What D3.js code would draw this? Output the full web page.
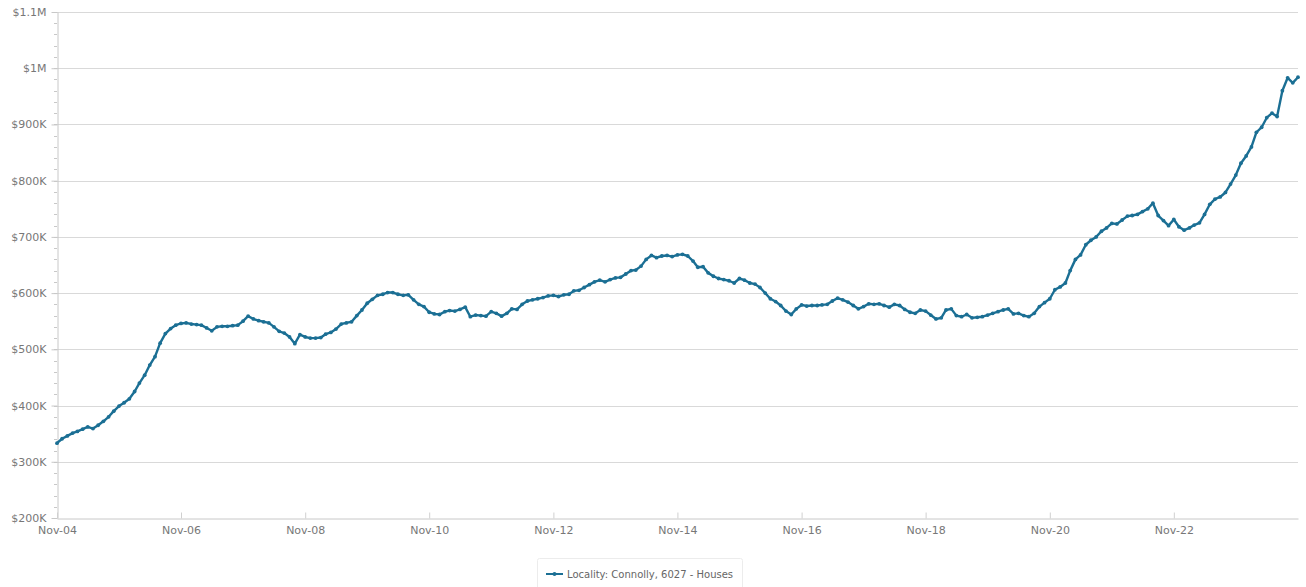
<!DOCTYPE html>
<html>
<head>
<meta charset="utf-8">
<script src="https://cdn.jsdelivr.net/npm/d3@7"></script>
<style>
	body { margin: 0; background: #fff; }
	svg { display: block; }
	.axis text { font-family: "DejaVu Sans", sans-serif; font-size: 11px; fill: #777; }
	.legend text { font-family: "DejaVu Sans", sans-serif; font-size: 10px; fill: #666; }
</style>
</head>
<body>
<svg width="1306" height="587"></svg>
<script>
// monthly median house value, Nov-04 .. Nov-24 (in $K)
var startMonth = new Date(2004, 10, 1);
var medianValues = [
	333, 341, 346, 351, 354, 358, 362, 359, 365, 372, 380, 390,
	399, 405, 412, 425, 440, 454, 472, 487, 511, 528, 537, 543,
	546, 547, 545, 544, 543, 538, 533, 540, 541, 541, 542, 543,
	550, 559, 554, 551, 549, 547, 540, 532, 529, 522, 510, 526,
	522, 520, 520, 521, 527, 530, 536, 545, 547, 549, 560, 570,
	582, 589, 596, 598, 601, 601, 598, 596, 597, 588, 580, 576,
	566, 563, 562, 567, 569, 568, 571, 575, 558, 561, 560, 559,
	567, 564, 559, 564, 572, 571, 580, 586, 588, 590, 592, 595,
	596, 594, 597, 598, 604, 605, 610, 615, 620, 623, 620, 624,
	627, 628, 634, 640, 641, 648, 660, 667, 663, 666, 667, 665,
	668, 669, 666, 657, 646, 647, 636, 630, 626, 624, 622, 618,
	626, 623, 618, 616, 610, 600, 590, 585, 578, 568, 562, 572,
	579, 577, 578, 578, 579, 580, 586, 591, 588, 584, 578, 572,
	576, 581, 580, 581, 578, 575, 580, 578, 571, 566, 564, 570,
	568, 561, 554, 556, 570, 572, 560, 558, 562, 556, 557, 558,
	561, 564, 567, 570, 572, 563, 564, 560, 558, 564, 576, 583,
	590, 606, 611, 618, 640, 660, 668, 686, 694, 700, 710, 716,
	724, 723, 730, 737, 738, 740, 745, 750, 760, 738, 729, 720,
	731, 718, 712, 716, 721, 725, 740, 758, 767, 771, 779, 794,
	810, 831, 844, 860, 886, 895, 912, 920, 914, 960, 983, 974,
	984
];
var yTicks = [200, 300, 400, 500, 600, 700, 800, 900, 1000, 1100];
var yTickLabels = ['$200K', '$300K', '$400K', '$500K', '$600K', '$700K', '$800K', '$900K', '$1M', '$1.1M'];
var xTickYears = [2004, 2006, 2008, 2010, 2012, 2014, 2016, 2018, 2020, 2022];
var seriesName = 'Locality: Connolly, 6027 - Houses';

var lineColor = '#1b6f94';
var svg = d3.select('svg');
var plotLeft = 57, plotRight = 1298, plotTop = 12, plotBottom = 518;

var data = medianValues.map(function(v, i){
	return {date: d3.timeMonth.offset(startMonth, i), value: v};
});

var x = d3.scaleTime()
	.domain([startMonth, new Date(2024, 10, 1)])
	.range([plotLeft, plotRight]);
var y = d3.scaleLinear()
	.domain([200, 1100])
	.range([plotBottom, plotTop]);

// gridlines
svg.append('g').selectAll('line')
	.data(yTicks.slice(1))
	.enter().append('line')
	.attr('x1', plotLeft).attr('x2', plotRight)
	.attr('y1', function(d){ return Math.round(y(d)) + 0.5; })
	.attr('y2', function(d){ return Math.round(y(d)) + 0.5; })
	.attr('stroke', '#d9d9d9')
	.attr('stroke-width', 1);

// y axis with minor ticks
var yMinor = d3.range(200, 1101, 20);
svg.append('g').selectAll('line')
	.data(yMinor)
	.enter().append('line')
	.attr('x1', plotLeft - 3).attr('x2', plotLeft)
	.attr('y1', function(d){ return Math.round(y(d)) + 0.5; })
	.attr('y2', function(d){ return Math.round(y(d)) + 0.5; })
	.attr('stroke', '#c8c8c8');

var yAxis = svg.append('g')
	.attr('class', 'axis')
	.attr('transform', 'translate(' + (plotLeft + 0.5) + ',0)')
	.call(d3.axisLeft(y).tickValues(yTicks).tickSize(6).tickSizeOuter(0).tickPadding(5)
		.tickFormat(function(d, i){ return yTickLabels[i]; }));
yAxis.select('.domain').attr('stroke', '#c8c8c8');
yAxis.selectAll('.tick line').attr('stroke', '#c8c8c8');

// x axis
var xAxis = svg.append('g')
	.attr('class', 'axis')
	.attr('transform', 'translate(0,' + (plotBottom + 0.5) + ')')
	.call(d3.axisBottom(x)
		.tickValues(xTickYears.map(function(yr){ return new Date(yr, 10, 1); }))
		.tickSize(-6).tickSizeOuter(0).tickPadding(8)
		.tickFormat(d3.timeFormat('Nov-%y')));
xAxis.select('.domain').attr('stroke', '#c8c8c8');
xAxis.selectAll('.tick line').attr('stroke', '#d0d0d0');

// series line + markers
var line = d3.line()
	.x(function(d){ return x(d.date); })
	.y(function(d){ return y(d.value); });

svg.append('path')
	.datum(data)
	.attr('d', line)
	.attr('fill', 'none')
	.attr('stroke', lineColor)
	.attr('stroke-width', 2.4)
	.attr('stroke-linejoin', 'round');

svg.append('g').selectAll('circle')
	.data(data)
	.enter().append('circle')
	.attr('cx', function(d){ return x(d.date); })
	.attr('cy', function(d){ return y(d.value); })
	.attr('r', 1.9)
	.attr('fill', lineColor);

// legend
var legend = svg.append('g').attr('class', 'legend');
legend.append('rect')
	.attr('x', 537.5).attr('y', 558.5)
	.attr('width', 205).attr('height', 32)
	.attr('rx', 2)
	.attr('fill', '#fff')
	.attr('stroke', '#ececec');
legend.append('line')
	.attr('x1', 546).attr('x2', 563)
	.attr('y1', 574).attr('y2', 574)
	.attr('stroke', lineColor).attr('stroke-width', 2);
legend.append('circle')
	.attr('cx', 554.5).attr('cy', 574).attr('r', 2)
	.attr('fill', lineColor);
legend.append('text')
	.attr('x', 567).attr('y', 577.5)
	.text(seriesName);
</script>
</body>
</html>
